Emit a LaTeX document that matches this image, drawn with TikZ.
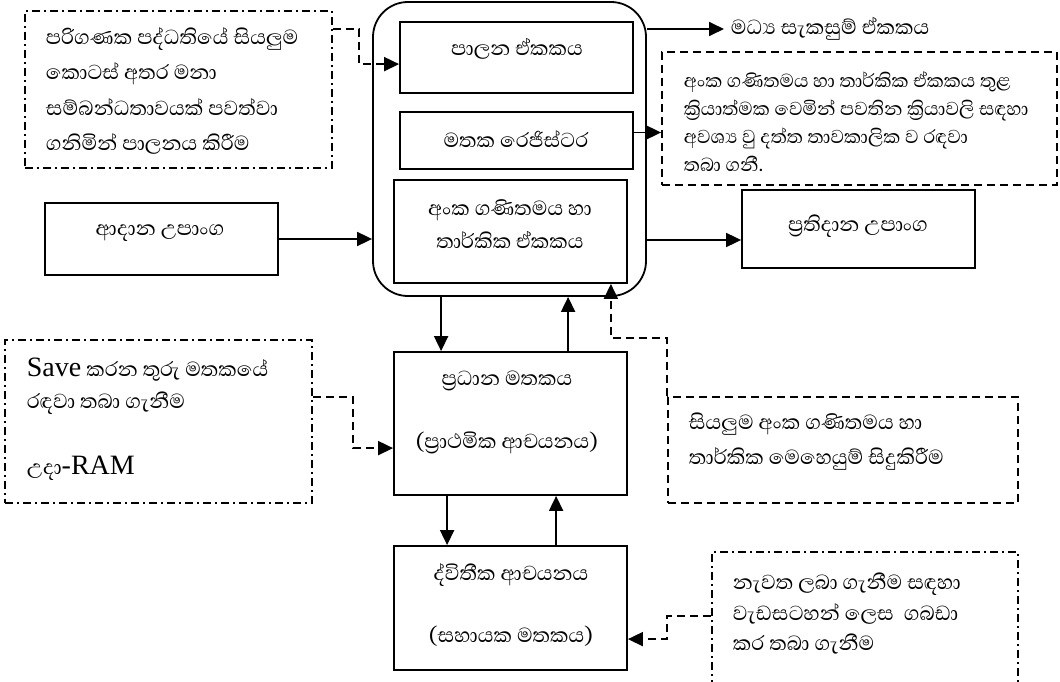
\documentclass[tikz,border=0pt]{standalone}
\usepackage{fontspec}
\setmainfont{Liberation Serif}
\newfontfamily\sifont[Script=Sinhala]{Abhaya Libre}
\usetikzlibrary{arrows.meta}
\begin{document}
\begin{tikzpicture}[x=1pt,y=-1pt, line width=1.8pt,
  box/.style={draw, rectangle, inner sep=0pt},
  arr/.style={-{Triangle[length=15pt,width=14pt]}},
  dsh/.style={dash pattern=on 8pt off 5pt},
  dsd/.style={dash pattern=on 8pt off 4pt on 2pt off 4pt},
  txt/.style={inner sep=0pt, font=\sifont\fontsize{26}{35.6}\selectfont},
]
\useasboundingbox (0,0) rectangle (1060,682);
\clip (0,0) rectangle (1060,682);

% boxes
\node[box, dsd, minimum width=307pt, minimum height=157pt] (cbox) at (178.5,89.5) {};
\node[box, minimum width=233pt, minimum height=71pt] (ctrl) at (516.5,57.5) {};
\node[box, minimum width=233pt, minimum height=57pt] (reg) at (516.5,140.5) {};
\node[box, minimum width=233pt, minimum height=103pt] (alu) at (510.5,231.5) {};
\node[box, rounded corners=35pt, minimum width=273pt, minimum height=294pt] (cpu) at (509.5,149) {};
\node[box, dsh, minimum width=395pt, minimum height=133pt] (rtbox) at (859.5,118.5) {};
\node[box, minimum width=233pt, minimum height=72pt] (input) at (161.5,239) {};
\node[box, minimum width=233pt, minimum height=78pt] (output) at (858.5,229) {};
\node[box, dsd, minimum width=307pt, minimum height=163pt] (savebox) at (158.5,421.5) {};
\node[box, minimum width=233pt, minimum height=143pt] (mm) at (510.5,423.5) {};
\node[box, dsh, minimum width=350pt, minimum height=106pt] (sbox) at (843,450) {};
\node[box, minimum width=233pt, minimum height=124pt] (sec) at (510.5,608) {};
\node[box, dsd, minimum width=306pt, minimum height=160pt] (brbox) at (865,632) {};

% texts
\node[txt, anchor=west, align=left] (t1) at (45,91) {පරිගණක පද්ධතියේ සියලුම\\කොටස් අතර මනා\\සම්බන්ධතාවයක් පවත්වා\\ගනිමින් පාලනය කිරීම};
\node[txt] (t2) at (517,49) {පාලන ඒකකය};
\node[txt] (t3) at (516,139) {මතක රෙජිස්ටර};
\node[txt, align=center, font=\sifont\fontsize{26}{33}\selectfont] (t4) at (510,224.5) {අංක ගණිතමය හා\\තාර්කික ඒකකය};
\node[txt, anchor=west] (mid) at (730,29) {මධ්‍ය සැකසුම් ඒකකය};
\node[txt, anchor=west, align=left, font=\sifont\fontsize{24}{28}\selectfont] (t6) at (683,122) {අංක ගණිතමය හා තාර්කික ඒකකය තුළ\\ක්‍රියාත්මක වෙමින් පවතින ක්‍රියාවලි සඳහා\\අවශ්‍ය වු දත්ත තාවකාලික ව රඳවා\\තබා ගනී.};
\node[txt] (t7) at (160,233) {ආදාන උපාංග};
\node[txt] (t8) at (858,226) {ප්‍රතිදාන උපාංග};
\node[txt, anchor=west, align=left, font=\sifont\fontsize{26}{32.7}\selectfont] (t9) at (26,419) {{\rmfamily\fontsize{28}{32.7}\selectfont Save} කරන තුරු මතකයේ\\රඳවා තබා ගැනීම\\\mbox{}\\උදා{\rmfamily\fontsize{28}{32.7}\selectfont -RAM}};
\node[txt, align=center, font=\sifont\fontsize{26}{63}\selectfont] (t10) at (507,412.5) {ප්‍රධාන මතකය\\(ප්‍රාථමික ආචයනය)};
\node[txt, anchor=west, align=left, font=\sifont\fontsize{26}{35}\selectfont] (t11) at (688,441.5) {සියලුම අංක ගණිතමය හා\\තාර්කික මෙහෙයුම් සිදුකිරීම};
\node[txt, align=center, font=\sifont\fontsize{26}{62}\selectfont] (t12) at (511,605) {ද්විතීක ආචයනය\\(සහායක මතකය)};
\node[txt, anchor=west, align=left, font=\sifont\fontsize{26}{30.5}\selectfont] (t13) at (732,614) {නැවත ලබා ගැනීම සඳහා\\වැඩසටහන් ලෙස\ \ ගබඩා\\කර තබා ගැනීම};

% connectors
\draw[arr, dsh] ([yshift=-19pt]cbox.north east) -- ++(26,0) |- ([yshift=-43pt]ctrl.north west);
\draw[arr] (cpu.east |- mid.west) -- ([xshift=-6pt]mid.west);
\draw[arr] ([yshift=8pt]reg.east) -- ([yshift=8pt]reg.east -| rtbox.west);
\draw[arr] (input.east) -- (input.east -| cpu.west);
\draw[arr] ([yshift=-11pt]output.west -| cpu.east) -- ([yshift=-11pt]output.west);
\draw[arr] ([xshift=48pt]mm.north west |- cpu.south) -- ([xshift=48pt]mm.north west);
\draw[arr] ([xshift=175pt]mm.north west) -- ([xshift=175pt]mm.north west |- cpu.south);
\draw[arr, dsh] (sbox.north west) -- ++(0,-58) -| ([xshift=-17pt]alu.south east);
\draw[arr] ([xshift=54pt]mm.south west) -- ([xshift=54pt]mm.south west |- sec.north);
\draw[arr] ([xshift=163pt]sec.north west) -- ([xshift=163pt]sec.north west |- mm.south);
\draw[arr, dsh] ([yshift=-58pt]savebox.north east) -- ++(40,0) |- ([yshift=-97pt]mm.north west);
\draw[arr, dsh] ([yshift=-65pt]brbox.north west) -- ++(-44,0) |- ([yshift=-94pt]sec.north east);
\end{tikzpicture}
\end{document}
